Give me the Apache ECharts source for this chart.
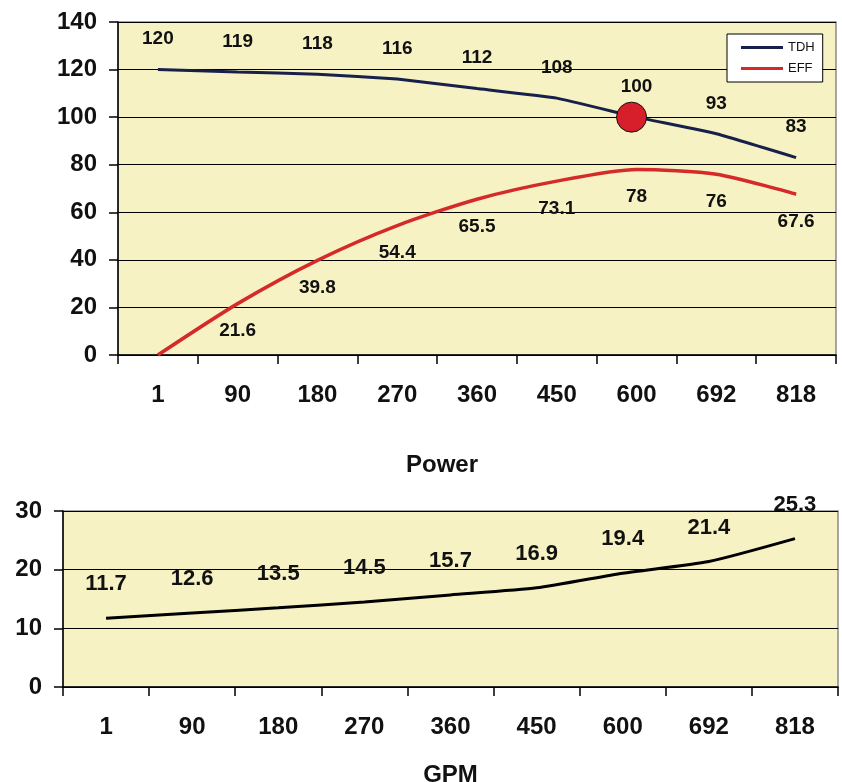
<!DOCTYPE html>
<html>
<head>
<meta charset="utf-8">
<script src="https://cdn.jsdelivr.net/npm/echarts@6/dist/echarts.min.js"></script>
<style>
html,body{margin:0;padding:0;background:#fff;}
#c{width:842px;height:782px;}
</style>
</head>
<body>
<div id="c"></div>
<script>
const categories = ['1','90','180','270','360','450','600','692','818'];
const tdh = [120,119,118,116,112,108,100,93,83];
const eff = [0,21.6,39.8,54.4,65.5,73.1,78,76,67.6];
const power = [11.7,12.6,13.5,14.5,15.7,16.9,19.4,21.4,25.3];
const dutyPoint = ['600', 100];

const FONT = 'Liberation Sans, Arial, sans-serif';
const PLOT_BG = '#f7f2c3';

const chart = echarts.init(document.getElementById('c'), null, {renderer:'canvas'});

function xAxisCfg(gi, name){
  return {
    type:'category', gridIndex:gi, data:categories, boundaryGap:true,
    axisLine:{show:true, lineStyle:{color:'#000', width:1.5}},
    axisTick:{show:true, alignWithLabel:false, inside:false, length:9, lineStyle:{color:'#000', width:1.5}},
    axisLabel:{margin:28, fontFamily:FONT, fontSize:24, fontWeight:'bold', color:'#111'},
    name:name||'', nameLocation:'middle', nameGap:76,
    nameTextStyle:{fontFamily:FONT, fontSize:24, fontWeight:'bold', color:'#111'}
  };
}
function yAxisCfg(gi, max, interval){
  return {
    type:'value', gridIndex:gi, min:0, max:max, interval:interval,
    axisLine:{show:true, lineStyle:{color:'#000', width:1.5}},
    axisTick:{show:true, length:9, lineStyle:{color:'#000', width:1.5}},
    axisLabel:{margin:21, fontFamily:FONT, fontSize:24, fontWeight:'bold', color:'#111'},
    splitLine:{show:true, lineStyle:{color:'#000', width:1.2}}
  };
}

const hiddenSymbol = {symbol:'circle', symbolSize:0, showSymbol:true};

chart.setOption({
  animation:false,
  backgroundColor:'#fff',
  title:{
    text:'Power', left:437, top:448, textAlign:'center',
    textStyle:{fontFamily:FONT, fontSize:24, fontWeight:'bold', color:'#111'}
  },
  legend:{
    show:true, data:['TDH','EFF'], orient:'vertical',
    left:727, top:34,
    backgroundColor:'#fff', borderColor:'#000', borderWidth:1,
    padding:[7,8,7,14], itemGap:8,
    itemWidth:42, itemHeight:3, icon:'rect',
    textStyle:{fontFamily:'Liberation Sans Narrow, Liberation Sans, Arial', fontSize:13, color:'#111'}
  },
  grid:[
    {left:118, top:22, width:718, height:333, show:true, backgroundColor:PLOT_BG, borderColor:'#8a8a8a', borderWidth:1.5, containLabel:false, outerBoundsMode:'none'},
    {left:63, top:511, width:775, height:176, show:true, backgroundColor:PLOT_BG, borderColor:'#8a8a8a', borderWidth:1.5, containLabel:false, outerBoundsMode:'none'}
  ],
  xAxis:[ xAxisCfg(0), xAxisCfg(1,'GPM') ],
  yAxis:[ yAxisCfg(0,140,20), yAxisCfg(1,30,10) ],
  series:[
    Object.assign({
      name:'TDH', type:'line', xAxisIndex:0, yAxisIndex:0, data:tdh,
      smooth:0.1,
      lineStyle:{color:'#16204a', width:3}, itemStyle:{color:'#16204a'},
      label:{show:true, position:'top', distance:21, fontFamily:FONT, fontSize:19, fontWeight:'bold', color:'#111'},
      markPoint:{
        symbol:'circle', symbolSize:30, symbolOffset:[-5,0],
        itemStyle:{color:'#d61f2a', borderColor:'#111', borderWidth:1},
        label:{show:false},
        data:[{coord:dutyPoint}]
      },
      z:3
    }, hiddenSymbol),
    Object.assign({
      name:'EFF', type:'line', xAxisIndex:0, yAxisIndex:0,
      data:eff.map((v,i)=> i===0 ? {value:v, label:{show:false}} : v),
      smooth:0.25,
      lineStyle:{color:'#d42a2a', width:3.5}, itemStyle:{color:'#d42a2a'},
      label:{show:true, position:'bottom', distance:18, fontFamily:FONT, fontSize:19, fontWeight:'bold', color:'#111'},
      z:3
    }, hiddenSymbol),
    Object.assign({
      name:'Power', type:'line', xAxisIndex:1, yAxisIndex:1, data:power,
      smooth:0.2,
      lineStyle:{color:'#000', width:3}, itemStyle:{color:'#000'},
      label:{show:true, position:'top', distance:23, fontFamily:FONT, fontSize:22, fontWeight:'bold', color:'#111'},
      z:3
    }, hiddenSymbol)
  ]
});
</script>
</body>
</html>
